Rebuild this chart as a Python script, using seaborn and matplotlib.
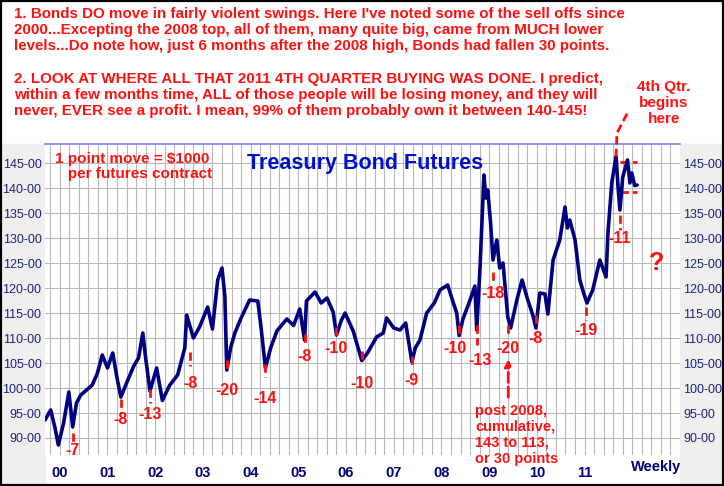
import numpy as np
import pandas as pd
from matplotlib import pyplot as plt
import matplotlib.patches as mpatches
import seaborn as sns

sns.set_style('white')
plt.rcParams['font.family'] = 'Liberation Sans'

# traced weekly-ish closes, fractional year -> price
years = [1999.69, 1999.81, 1999.9, 1999.97, 2000.08, 2000.19, 2000.27, 2000.35, 2000.44, 2000.55,
         2000.68, 2000.79, 2000.89, 2001.0, 2001.11, 2001.2, 2001.28, 2001.4, 2001.55, 2001.65,
         2001.74, 2001.8, 2001.89, 2002.03, 2002.15, 2002.3, 2002.47, 2002.62, 2002.66, 2002.8,
         2002.93, 2003.1, 2003.2, 2003.31, 2003.4, 2003.46, 2003.5, 2003.58, 2003.67, 2003.8,
         2003.98, 2004.15, 2004.22, 2004.31, 2004.42, 2004.55, 2004.76, 2004.9, 2005.03, 2005.13,
         2005.17, 2005.35, 2005.48, 2005.6, 2005.73, 2005.8, 2005.9, 2005.98, 2006.15, 2006.33,
         2006.45, 2006.64, 2006.78, 2006.85, 2007.0, 2007.13, 2007.25, 2007.38, 2007.45, 2007.55,
         2007.69, 2007.85, 2007.97, 2008.13, 2008.25, 2008.32, 2008.37, 2008.45, 2008.6, 2008.7,
         2008.74, 2008.81, 2008.89, 2008.93, 2008.97, 2009.03, 2009.08, 2009.16, 2009.22, 2009.29,
         2009.39, 2009.45, 2009.58, 2009.69, 2009.79, 2009.92, 2009.98, 2010.06, 2010.17, 2010.23,
         2010.34, 2010.48, 2010.59, 2010.64, 2010.69, 2010.8, 2010.9, 2010.98, 2011.05, 2011.17,
         2011.32, 2011.45, 2011.49, 2011.57, 2011.66, 2011.7, 2011.74, 2011.8, 2011.9, 2011.95,
         2011.99, 2012.05, 2012.1]
prices = [93.6, 95.6, 92.0, 88.6, 93.0, 99.2, 92.2, 97.0, 98.6, 99.5,
          100.6, 103.0, 106.6, 104.0, 107.0, 102.0, 98.2, 101.0, 104.4, 106.0,
          111.0, 106.0, 99.4, 104.0, 97.5, 100.5, 102.6, 108.0, 114.6, 110.0,
          112.2, 116.2, 111.8, 121.6, 124.0, 118.4, 103.6, 108.0, 111.0, 114.0,
          117.6, 117.4, 112.0, 104.0, 108.0, 111.4, 113.8, 112.5, 115.8, 109.6,
          117.4, 119.2, 117.0, 118.0, 115.2, 110.6, 113.5, 115.0, 111.4, 105.5,
          107.0, 110.2, 111.0, 114.0, 112.0, 111.6, 113.0, 105.2, 108.0, 109.6,
          115.0, 117.0, 119.6, 120.6, 117.0, 115.0, 110.5, 113.8, 117.6, 120.4,
          111.6, 124.4, 142.6, 138.0, 139.6, 133.0, 125.6, 129.6, 124.0, 125.0,
          114.2, 112.0, 117.6, 121.6, 118.2, 114.4, 112.0, 119.0, 118.8, 114.8,
          125.6, 129.6, 136.2, 132.0, 133.6, 129.6, 121.6, 119.0, 117.0, 119.6,
          125.6, 122.2, 131.0, 141.0, 146.4, 140.4, 135.6, 142.2, 145.6, 141.0,
          143.0, 140.5, 140.6]

# sell-off markers: x, line top, line bottom, label x, label y, label
mk_x = [2000.27, 2001.28, 2001.89, 2002.73, 2003.5, 2004.3, 2005.13, 2005.8, 2006.33, 2007.38,
        2008.36, 2008.74, 2009.39, 2009.98, 2009.08, 2011.04, 2011.74]
mk_top = [91.0, 97.8, 99.7, 107.2, 105.6, 104.9, 110.9, 112.2, 107.5, 106.4,
          112.6, 112.6, 112.6, 114.6, 123.2, 116.2, 134.6]
mk_bot = [88.6, 95.0, 97.0, 104.4, 103.6, 102.2, 108.5, 109.9, 105.5, 104.0,
          110.8, 108.6, 110.8, 112.6, 121.0, 113.6, 131.6]
mk_lab_x = [2000.27, 2001.28, 2001.89, 2002.73, 2003.5, 2004.3, 2005.13, 2005.8, 2006.33, 2007.38,
            2008.28, 2008.8, 2009.39, 2009.98, 2009.08, 2011.04, 2011.74]
mk_lab_y = [87.6, 93.7, 94.8, 101.0, 99.5, 98.0, 106.3, 107.9, 101.0, 101.6,
            108.0, 105.6, 108.0, 110.0, 119.0, 111.6, 130.0]
mk_lab = ['-7', '-8', '-13', '-8', '-20', '-14', '-8', '-10', '-10', '-9',
          '-10', '-13', '-20', '-8', '-18', '-19', '-11']

yticks = [90, 95, 100, 105, 110, 115, 120, 125, 130, 135, 140, 145]
year_ticks = list(range(2000, 2012))
year_labels = ['00', '01', '02', '03', '04', '05', '06', '07', '08', '09', '10', '11']

note_lines = [
    "1. Bonds DO move in fairly violent swings. Here I've noted some of the sell offs since",
    "2000...Excepting the 2008 top, all of them, many quite big, came from MUCH lower",
    "levels...Do note how, just 6 months after the 2008 high, Bonds had fallen 30 points.",
    "",
    "2. LOOK AT WHERE ALL THAT 2011 4TH QUARTER BUYING WAS DONE. I predict,",
    "within a few months time, ALL of those people will be losing money, and they will",
    "never, EVER see a profit. I mean, 99% of them probably own it between 140-145!",
]

W, H = 724, 486
RED = '#ff1010'
NAVY = '#000080'
fig = plt.figure(figsize=(W / 100, H / 100), dpi=100)
fig.patch.set_facecolor('white')

# grey side panels
fig.add_artist(mpatches.Rectangle((0, 0), 45 / W, 1 - 144 / H, transform=fig.transFigure,
                                  color='#efefef', zorder=0))
fig.add_artist(mpatches.Rectangle((680 / W, 0), 44 / W, 1 - 144 / H, transform=fig.transFigure,
                                  color='#efefef', zorder=0))
fig.add_artist(mpatches.Rectangle((0, 0), 1, 1, transform=fig.transFigure, fill=False,
                                  edgecolor='black', lw=3, zorder=10))

ax = fig.add_axes([45 / W, 1 - 455 / H, 635 / W, 311 / H])
df = pd.DataFrame({'year': years, 'price': prices})
sns.lineplot(data=df, x='year', y='price', ax=ax, color=NAVY, lw=2.6, zorder=3)

ax.set_xlim(1999.69, 2013.0)
ax.set_ylim(86.6, 148.8)
ax.set_xticks(year_ticks)
ax.set_xticklabels(year_labels)
ax.set_xticks(np.arange(1999.8, 2013.0, 0.2), minor=True)
ax.set_yticks(yticks)
ax.set_yticklabels([f'{t}-00' for t in yticks])
ax.grid(True, which='both', axis='x', color='#b8b8b8', lw=0.8)
ax.grid(True, which='major', axis='y', color='#b8b8b8', lw=0.8)
ax.tick_params(axis='y', length=0, pad=2.5, labelsize=9, labelcolor='#1a237e',
               labelright=True, labelleft=True)
ax.tick_params(axis='x', which='both', length=0, pad=8, labelsize=10.5, labelcolor=NAVY)
for lab in ax.get_xticklabels():
    lab.set_fontweight('bold')
ax.set_xlabel('')
ax.set_ylabel('')
for s in ['left', 'right', 'bottom']:
    ax.spines[s].set_visible(False)
ax.spines['top'].set_color('#8080ff')
ax.spines['top'].set_linewidth(1.2)

for x, t, b, lx, ly, lab in zip(mk_x, mk_top, mk_bot, mk_lab_x, mk_lab_y, mk_lab):
    ax.plot([x, x], [t, b], color=RED, lw=2, ls=(0, (3, 1.5)), zorder=4)
    ax.text(lx, ly, lab, color=RED, fontsize=11.5, fontweight='bold', ha='center', va='center', zorder=5)

# 4th quarter buying range
ax.plot([2011.74, 2012.1], [145.2, 145.2], color=RED, lw=2, ls=(0, (3, 1.5)))
ax.plot([2011.74, 2012.1], [139.2, 139.2], color=RED, lw=2, ls=(0, (3, 1.5)))
ax.text(2012.5, 125, '?', color=RED, fontsize=18, fontweight='bold', ha='center', va='center')

ax.text(2008.71, 96.8, 'post 2008,\ncumulative,\n143 to 113,\nor 30 points', color=RED,
        fontsize=10.5, fontweight='bold', ha='left', va='top', linespacing=1.17)
ax.annotate('', xy=(2009.4, 106.3), xytext=(2009.4, 97.6),
            arrowprops=dict(arrowstyle='-|>', color=RED, lw=2, ls='--'))

ax.text(0.318, 0.97, 'Treasury Bond Futures', transform=ax.transAxes, color='#0010c8',
        fontsize=15.5, fontweight='bold', va='top')
ax.text(0.016, 0.975, '1 point move = $1000\n   per futures contract', transform=ax.transAxes,
        color=RED, fontsize=11, fontweight='bold', va='top', linespacing=1.1)
fig.text(656 / W, 1 - 467 / H, 'Weekly', color=NAVY, fontsize=10.5, fontweight='bold',
         ha='center', va='center')

fig.text(14 / W, 1 - 7 / H, '\n'.join(note_lines), color=RED, fontsize=10.9, fontweight='bold',
         ha='left', va='top', linespacing=1.2)
fig.text(664 / W, 1 - 80 / H, '4th Qtr.\nbegins\nhere', color=RED, fontsize=11, fontweight='bold',
         ha='center', va='top', linespacing=1.2)
fig.add_artist(plt.Line2D([616 / W, 617 / W, 628 / W], [1 - 157 / H, 1 - 133 / H, 1 - 112 / H],
                          transform=fig.transFigure, color=RED, lw=2, ls=(0, (3, 1.5))))

fig.savefig('out.png', dpi=100)
